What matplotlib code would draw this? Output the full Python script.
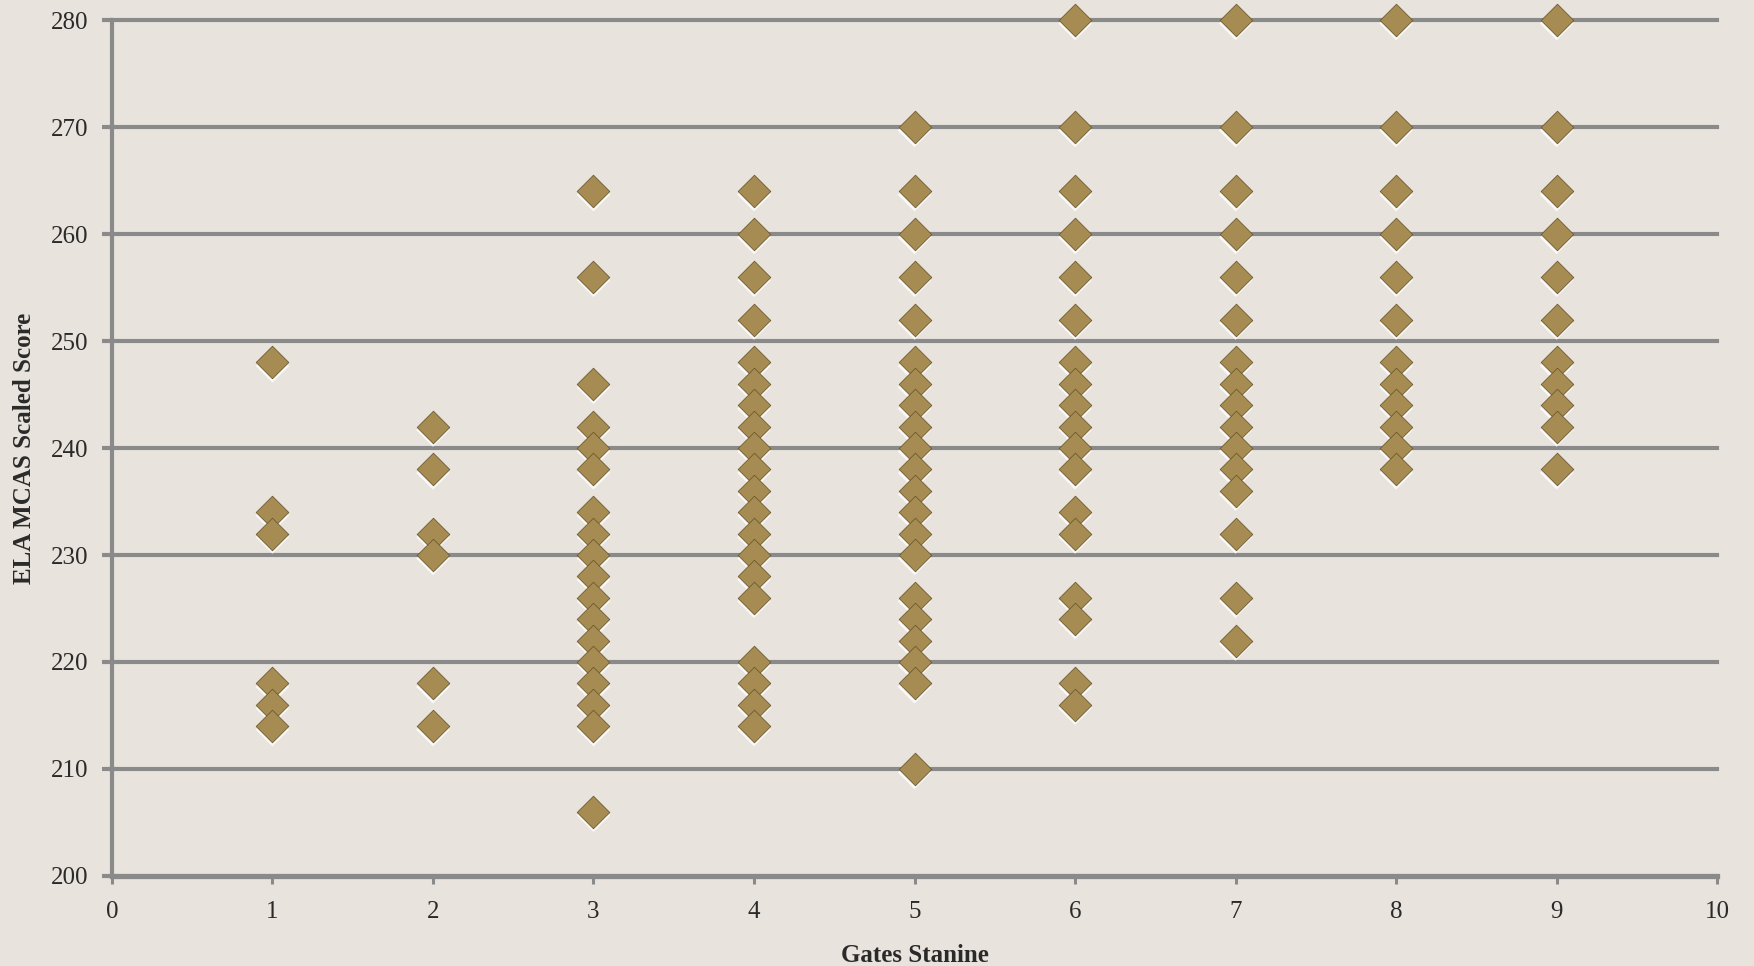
import numpy as np
import matplotlib
matplotlib.use("Agg")
import matplotlib.pyplot as plt
import matplotlib.transforms as mtransforms

# scores, one list per Gates stanine
stanine_1 = [248, 234, 232, 218, 216, 214]
stanine_2 = [242, 238, 232, 230, 218, 214]
stanine_3 = [264, 256, 246, 242, 240, 238, 234, 232, 230, 228, 226, 224, 222, 220, 218, 216, 214, 206]
stanine_4 = [264, 260, 256, 252, 248, 246, 244, 242, 240, 238, 236, 234, 232, 230, 228, 226, 220, 218, 216, 214]
stanine_5 = [270, 264, 260, 256, 252, 248, 246, 244, 242, 240, 238, 236, 234, 232, 230, 226, 224, 222, 220, 218, 210]
stanine_6 = [280, 270, 264, 260, 256, 252, 248, 246, 244, 242, 240, 238, 234, 232, 226, 224, 218, 216]
stanine_7 = [280, 270, 264, 260, 256, 252, 248, 246, 244, 242, 240, 238, 236, 232, 226, 222]
stanine_8 = [280, 270, 264, 260, 256, 252, 248, 246, 244, 242, 240, 238]
stanine_9 = [280, 270, 264, 260, 256, 252, 248, 246, 244, 242, 238]

groups = [stanine_1, stanine_2, stanine_3, stanine_4, stanine_5,
          stanine_6, stanine_7, stanine_8, stanine_9]
x = np.concatenate([[i + 1] * len(g) for i, g in enumerate(groups)])
y = np.concatenate(groups)

bg = "#e8e4dd"
grey = "#8a8a8a"
gold = "#a68c52"

fig = plt.figure(figsize=(17.54, 9.66), dpi=100, facecolor=bg)
ax = fig.add_axes([0.0638, 0.0932, 0.9152, 0.886], facecolor=bg)

ax.set_xlim(0, 10)
ax.set_ylim(200, 280)
ax.set_xticks(range(0, 11))
ax.set_yticks(range(200, 281, 10))

for v in range(210, 281, 10):
    ax.axhline(v, color=grey, lw=3.0, zorder=1, clip_on=False)

# white glow under the markers
shadow = mtransforms.offset_copy(ax.transData, fig=fig, x=0, y=-2.5, units="points")
ax.scatter(x, y, marker="D", s=290, color="white", edgecolors="none",
           alpha=0.8, transform=shadow, zorder=2, clip_on=False)
ax.scatter(x, y, marker="D", s=275, color=gold, edgecolors="#6e5a2c",
           linewidths=0.6, zorder=3, clip_on=False)

for side in ["top", "right"]:
    ax.spines[side].set_visible(False)
ax.spines["left"].set_color(grey)
ax.spines["left"].set_linewidth(3.0)
ax.spines["bottom"].set_color(grey)
ax.spines["bottom"].set_linewidth(3.8)

ax.tick_params(axis="y", length=7, width=3.0, color=grey, pad=10,
               labelsize=18, labelcolor="#2a2a2a")
ax.tick_params(axis="x", length=6, width=2.2, color=grey, pad=12,
               labelsize=18, labelcolor="#2a2a2a")
for lab in ax.get_xticklabels() + ax.get_yticklabels():
    lab.set_family("Liberation Serif")

ax.set_xlabel("Gates Stanine", fontsize=18, fontweight="bold",
              family="Liberation Serif", color="#2a2a2a", labelpad=15)
ax.set_ylabel("ELA MCAS Scaled Score", fontsize=18, fontweight="bold",
              family="Liberation Serif", color="#2a2a2a", labelpad=11)

fig.savefig("out.png", dpi=100, facecolor=bg)
